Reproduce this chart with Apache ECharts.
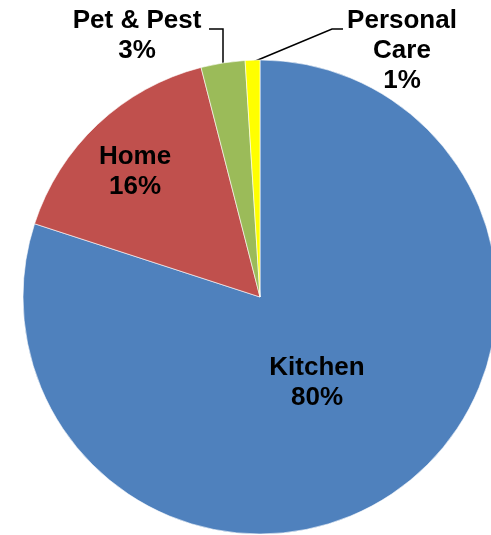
<!DOCTYPE html>
<html>
<head>
<meta charset="utf-8">
<script src="https://cdn.jsdelivr.net/npm/echarts@6/dist/echarts.min.js"></script>
<style>
html,body{margin:0;padding:0;background:#fff;}
#chart{width:491px;height:535px;}
</style>
</head>
<body>
<div id="chart"></div>
<script>
const categories = ['Kitchen', 'Home', 'Pet & Pest', 'Personal Care'];
const values = [80, 16, 3, 1];
const colors = ['#4F81BD', '#C0504D', '#9BBB59', '#FFFF00'];

const labelPos = [
  {x: 317, y: 383},
  {x: 135, y: 172},
  {x: 137, y: 36, line: [[223, 63], [223, 29], [209, 29]]},
  {x: 402, y: 51, line: [[253, 62], [332, 29], [343, 29]]}
];

const chart = echarts.init(document.getElementById('chart'));
chart.setOption({
  animation: false,
  series: [{
    type: 'pie',
    center: [260, 297],
    radius: 237,
    startAngle: 90,
    clockwise: true,
    avoidLabelOverlap: false,
    itemStyle: {borderColor: '#ffffff', borderWidth: 0.6},
    label: {
      show: true,
      color: '#000',
      fontFamily: 'Liberation Sans, Arial, sans-serif',
      fontWeight: 'bold',
      fontSize: 26,
      lineHeight: 30,
      align: 'center',
      formatter: function (p) {
        const n = p.name === 'Personal Care' ? 'Personal\nCare' : p.name;
        return n + '\n' + p.value + '%';
      }
    },
    labelLine: {show: true, length: 10, length2: 10, lineStyle: {color: '#000', width: 1.5}},
    labelLayout: function (params) {
      const p = labelPos[params.dataIndex];
      const o = {x: p.x, y: p.y, align: 'center', verticalAlign: 'middle'};
      if (p.line) o.labelLinePoints = p.line;
      return o;
    },
    data: categories.map(function (c, i) {
      const inside = i < 2;
      return {
        name: c,
        value: values[i],
        itemStyle: {color: colors[i]},
        label: {position: inside ? 'inside' : 'outside'},
        labelLine: {show: !inside}
      };
    })
  }]
});
</script>
</body>
</html>
